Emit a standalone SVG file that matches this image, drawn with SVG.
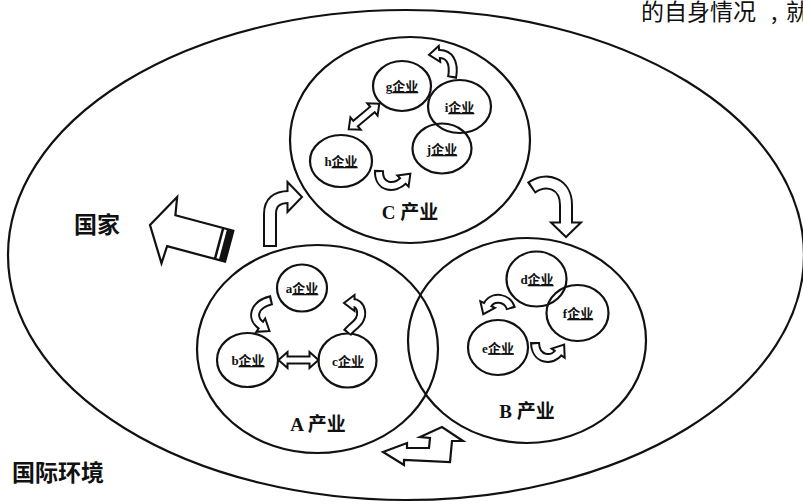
<svg xmlns="http://www.w3.org/2000/svg" width="803" height="504" viewBox="0 0 803 504">
<style>
.ln{fill:none;stroke:#111;stroke-width:2.2}
.k1{fill:none;stroke:#111;stroke-width:10;stroke-linecap:butt;stroke-linejoin:round}
.w1{fill:none;stroke:#fff;stroke-width:6;stroke-linecap:butt;stroke-linejoin:round;stroke-dasharray:0 2 3000}
.k2{fill:none;stroke:#111;stroke-width:14;stroke-linecap:butt;stroke-linejoin:round}
.w2{fill:none;stroke:#fff;stroke-width:10;stroke-linecap:butt;stroke-linejoin:round;stroke-dasharray:0 2 3000}
.lbl{font-family:"Liberation Serif","Noto Sans CJK SC",serif;font-size:13px;font-weight:bold;text-anchor:middle;fill:#111}
.u{font-family:"Noto Sans CJK SC",sans-serif;font-weight:bold;text-decoration:underline}
.ind{font-family:"Liberation Serif","Noto Sans CJK SC",serif;font-size:19px;font-weight:bold;text-anchor:middle;fill:#111}
.cn{font-family:"Noto Sans CJK SC",sans-serif;font-weight:bold;font-size:23px;fill:#111}
.top{font-family:"Noto Sans CJK SC",sans-serif;font-size:23px;fill:#111}
</style>
<defs>
<polygon id="hs" points="-1.5,-8 9,0 -1.5,8" fill="#fff" stroke="#111" stroke-width="2" stroke-linejoin="miter"/>
<polygon id="hl" points="-1.5,-15 13,0 -1.5,15" fill="#fff" stroke="#111" stroke-width="2" stroke-linejoin="miter"/>
<polygon id="dbl" points="-20,0 -11,-8 -11,-3.5 11,-3.5 11,-8 20,0 11,8 11,3.5 -11,3.5 -11,8" fill="#fff" stroke="#111" stroke-width="2" stroke-linejoin="miter"/>
</defs>
<rect width="803" height="504" fill="#fff"/>

<text class="top" y="20"><tspan x="641">的自身情况</tspan><tspan x="771">,</tspan><tspan x="786">就</tspan></text>

<g id="world">
<ellipse cx="406" cy="255" rx="398" ry="245" class="ln"/>
<text x="12" y="481" class="cn">国际环境</text>
</g>
<g id="country">
<text x="74" y="233" class="cn">国家</text>
</g>

<g id="industry-C">
<ellipse cx="410" cy="140" rx="120" ry="103" class="ln"/>
<text x="410" y="219" class="ind">C 产业</text>
</g>
<g id="industry-A">
<ellipse cx="317.5" cy="349" rx="120.5" ry="104" class="ln"/>
<text x="318" y="431" class="ind">A 产业</text>
</g>
<g id="industry-B">
<ellipse cx="527" cy="340.5" rx="119" ry="102.5" class="ln"/>
<text x="527" y="418" class="ind">B 产业</text>
</g>

<g id="firm-g"><ellipse cx="402" cy="86" rx="29" ry="25" class="ln"/><text x="402" y="91" class="lbl">g<tspan class="u">企业</tspan></text></g>
<g id="firm-i"><ellipse cx="459.5" cy="106.5" rx="31.5" ry="26.5" class="ln"/><text x="459.5" y="112" class="lbl">i<tspan class="u">企业</tspan></text></g>
<g id="firm-j"><ellipse cx="442" cy="148.5" rx="29.5" ry="25" class="ln"/><text x="442" y="154" class="lbl">j<tspan class="u">企业</tspan></text></g>
<g id="firm-h"><ellipse cx="341" cy="161" rx="31" ry="26" class="ln"/><text x="341" y="166" class="lbl">h<tspan class="u">企业</tspan></text></g>

<g id="firm-a"><ellipse cx="302" cy="288" rx="25" ry="23.5" class="ln"/><text x="302" y="293" class="lbl">a<tspan class="u">企业</tspan></text></g>
<g id="firm-b"><ellipse cx="247.5" cy="360" rx="30.5" ry="27" class="ln"/><text x="248" y="365" class="lbl">b<tspan class="u">企业</tspan></text></g>
<g id="firm-c"><ellipse cx="347.5" cy="360.5" rx="29" ry="27" class="ln"/><text x="348" y="365.5" class="lbl">c<tspan class="u">企业</tspan></text></g>

<g id="firm-d"><ellipse cx="536.5" cy="279" rx="30" ry="27.5" class="ln"/><text x="537" y="284" class="lbl">d<tspan class="u">企业</tspan></text></g>
<g id="firm-f"><ellipse cx="577.5" cy="313" rx="31" ry="28" class="ln"/><text x="578" y="318" class="lbl">f<tspan class="u">企业</tspan></text></g>
<g id="firm-e"><ellipse cx="498" cy="347.5" rx="30" ry="27.5" class="ln"/><text x="498" y="352.5" class="lbl">e<tspan class="u">企业</tspan></text></g>

<g id="connectors">
<!-- industries to country -->
<g transform="translate(150,225) rotate(15)">
<polygon points="0,0 19,-34 22,-16 82,-16 82,16 22,16 21,34" fill="#fff" stroke="#111" stroke-width="2.2" stroke-linejoin="miter"/>
<line x1="71.5" y1="-16" x2="71.5" y2="16" stroke="#111" stroke-width="2.5"/>
<rect x="75.5" y="-16" width="6.5" height="32" fill="#111"/>
</g>
<!-- A to C -->
<path class="k2" d="M270,247 L270,214 Q270,197 289,197"/>
<use href="#hl" transform="translate(289,197)"/>
<path class="w2" d="M270,247 L270,214 Q270,197 289,197"/>
<!-- C to B -->
<path class="k2" d="M531,188 C546,177 566,183 566,205 L566,224"/>
<use href="#hl" transform="translate(566,224) rotate(90)"/>
<path class="w2" d="M531,188 C546,177 566,183 566,205 L566,224"/>
<!-- B to A -->
<polygon points="383,452 407,443 407,448 429,448 430,438 420,437 442,427 463,441 452,441 450,462 404,460 404,465" fill="#fff" stroke="#111" stroke-width="2.2" stroke-linejoin="miter"/>

<!-- C cluster -->
<use href="#dbl" transform="translate(364,116.5) rotate(-40)"/>
<path class="k1" d="M452,78 C455,62 449,53 438,54"/>
<use href="#hs" transform="translate(438,54) rotate(174.8)"/>
<path class="w1" d="M452,78 C455,62 449,53 438,54"/>
<path class="k1" d="M379,170 C378,188 394,190 404,180"/>
<use href="#hs" transform="translate(404,180) rotate(-45)"/>
<path class="w1" d="M379,170 C378,188 394,190 404,180"/>

<!-- A cluster -->
<use href="#dbl" transform="translate(298.5,360)"/>
<path class="k1" d="M272,300 C254,304 250,318 262,326"/>
<use href="#hs" transform="translate(262,326) rotate(33.7)"/>
<path class="w1" d="M272,300 C254,304 250,318 262,326"/>
<path class="k1" d="M347,333 C352,326 363,322 361,311 C360,305 356,303 353,303"/>
<use href="#hs" transform="translate(353,303) rotate(180)"/>
<path class="w1" d="M347,333 C352,326 363,322 361,311 C360,305 356,303 353,303"/>

<!-- B cluster -->
<path class="k1" d="M511,309 C508,297 492,295 487,306"/>
<use href="#hs" transform="translate(487,306) rotate(114.4)"/>
<path class="w1" d="M511,309 C508,297 492,295 487,306"/>
<path class="k1" d="M535,342 C535,360 552,362 559,352"/>
<use href="#hs" transform="translate(559,352) rotate(-55)"/>
<path class="w1" d="M535,342 C535,360 552,362 559,352"/>
</g>
</svg>
